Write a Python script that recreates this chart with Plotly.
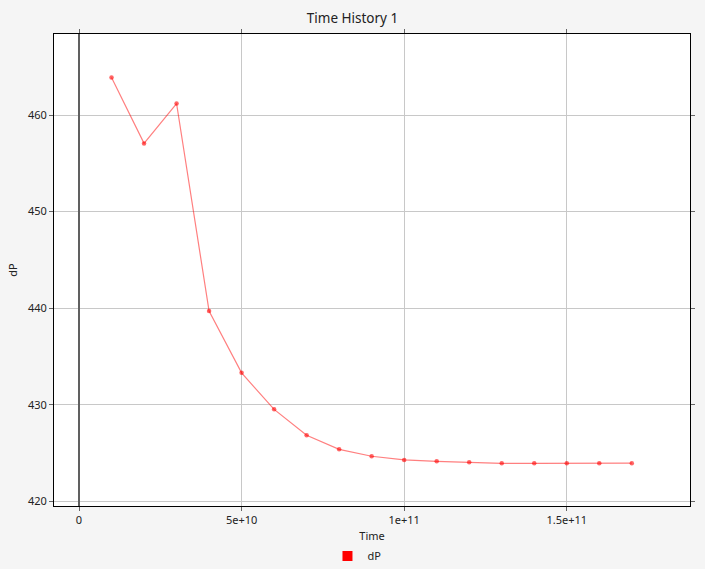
import plotly.graph_objects as go

time = [1e10, 2e10, 3e10, 4e10, 5e10, 6e10, 7e10, 8e10, 9e10, 1e11,
        1.1e11, 1.2e11, 1.3e11, 1.4e11, 1.5e11, 1.6e11, 1.7e11]
dP = [463.9, 457.07, 461.2, 439.7, 433.3, 429.52, 426.83, 425.38, 424.66, 424.28,
      424.14, 424.04, 423.93, 423.93, 423.93, 423.93, 423.95]

x_ticks = [0, 5e10, 1e11, 1.5e11]
x_tick_labels = ["0", "5e+10", "1e+11", "1.5e+11"]
y_ticks = [420, 430, 440, 450, 460]

fig = go.Figure()
fig.add_trace(go.Scatter(
    x=time, y=dP, mode="lines+markers", name="dP", showlegend=False,
    line=dict(color="rgba(255,0,0,0.5)", width=1.2),
    marker=dict(color="rgba(255,0,0,0.6)", size=4.5),
))
fig.add_trace(go.Scatter(
    x=[None], y=[None], mode="markers", name="dP",
    marker=dict(color="red", size=10, symbol="square"),
))

font = "Noto Sans, Open Sans, sans-serif"
fig.update_layout(
    width=705, height=569,
    paper_bgcolor="#f5f5f5", plot_bgcolor="white",
    margin=dict(l=54, r=15, t=34, b=63, autoexpand=False),
    font=dict(family=font, size=11, color="#222"),
    title=dict(text="Time History 1", x=0.5, xref="container", xanchor="center",
               y=1 - 18 / 569, yref="container", yanchor="middle",
               font=dict(size=13.5, color="#222")),
    legend=dict(orientation="h", x=0.43, xanchor="left", y=-0.106, yanchor="middle",
                bgcolor="rgba(0,0,0,0)", font=dict(size=11)),
    xaxis=dict(
        title=dict(text="Time", standoff=6, font=dict(size=11)),
        automargin=False,
        range=[-7.69e9, 1.879e11],
        tickvals=x_ticks, ticktext=x_tick_labels,
        showgrid=True, gridcolor="#c8c8c8", gridwidth=1,
        zeroline=True, zerolinecolor="#606060", zerolinewidth=1.5,
        showline=True, linecolor="black", linewidth=1, mirror="ticks",
        ticks="outside", ticklen=4, tickcolor="#666",
    ),
    yaxis=dict(
        title=dict(text="dP", standoff=8, font=dict(size=11)),
        automargin=True,
        range=[419.51, 468.4],
        tickvals=y_ticks,
        showgrid=True, gridcolor="#c8c8c8", gridwidth=1,
        zeroline=False,
        showline=True, linecolor="black", linewidth=1, mirror="ticks",
        ticks="outside", ticklen=4, tickcolor="#666",
    ),
)

fig.write_html("out.html", config={"displayModeBar": False},
               post_script="document.body.style.margin='0';")
